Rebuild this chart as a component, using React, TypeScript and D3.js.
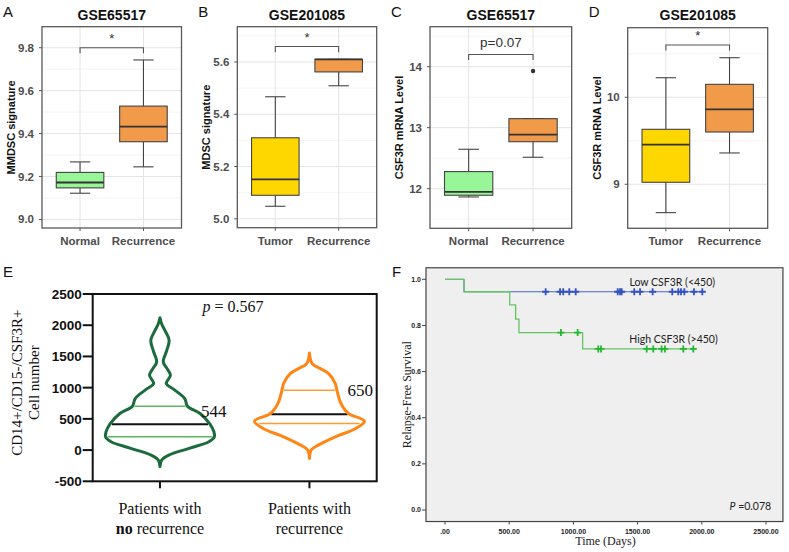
import React from "react";
import * as d3 from "d3";

// ---------- A-D: boxplots ----------
const catsNR = ["Normal", "Recurrence"];
const catsTR = ["Tumor", "Recurrence"];

// [lower whisker, q1, median, q3, upper whisker]
const statsA = [
  [9.122, 9.147, 9.172, 9.219, 9.268],
  [9.245, 9.362, 9.432, 9.528, 9.743],
];
const statsB = [
  [5.048, 5.09, 5.151, 5.31, 5.467],
  [5.509, 5.562, 5.61, 5.61, 5.61],
];
const statsC = [
  [11.864, 11.892, 11.946, 12.28, 12.646],
  [12.515, 12.77, 12.885, 13.148, 13.148],
];
const statsD = [
  [8.674, 9.023, 9.455, 9.632, 10.225],
  [9.36, 9.601, 9.862, 10.149, 10.455],
];
const outliersC = [[], [13.93]];

const ticksA = [9.0, 9.2, 9.4, 9.6, 9.8];
const minorA = [9.1, 9.3, 9.5, 9.7];
const ticksB = [5.0, 5.2, 5.4, 5.6];
const minorB = [5.1, 5.3, 5.5, 5.7];
const ticksC = [12, 13, 14];
const minorC = [11.5, 12.5, 13.5, 14.5];
const ticksD = [9, 10];
const minorD = [8.5, 9.5, 10.5];

const green = "#98f598";
const orange = "#f19b4a";
const gold = "#ffd700";

// ---------- E: violins ----------
const violinGroups = ["none", "recurrence"];
const noRecVals = [-266, -160, -80, 27, 133, 213, 293, 415, 586, 703, 825, 980, 1065, 1198, 1305, 1411, 1587, 1757, 1917, 2024, 2120];
const noRecDens = [0, 0.03, 0.16, 0.53, 0.89, 0.99, 0.98, 0.91, 0.73, 0.5, 0.45, 0.24, 0.115, 0.19, 0.13, 0.06, 0.12, 0.167, 0.09, 0.03, 0];
const recVals = [-133, 0, 80, 213, 346, 463, 575, 639, 772, 958, 1065, 1225, 1305, 1385, 1554];
const recDens = [0, 0.03, 0.16, 0.47, 0.84, 1.0, 0.73, 0.65, 0.56, 0.5, 0.47, 0.35, 0.2, 0.05, 0];
const noRecQuart = [213, 415, 703];
const recQuart = [426, 575, 958];
const violinTicks = [-500, 0, 500, 1000, 1500, 2000, 2500];
const violinLabels = ["544", "650"];

// ---------- F: Kaplan-Meier ----------
const kmTicksY = [0, 0.2, 0.4, 0.6, 0.8, 1.0];
const kmTicksX = [0, 500, 1000, 1500, 2000, 2500];
const kmTickLabelsX = [".00", "500.00", "1000.00", "1500.00", "2000.00", "2500.00"];
const lowTimes = [0, 148, 2004];
const lowSurv = [1, 0.946, 0.946];
const lowCensor = [784, 896, 921, 968, 1018, 1345, 1363, 1376, 1474, 1519, 1617, 1770, 1817, 1838, 1864, 1939, 2004];
const highTimes = [0, 148, 504, 550, 576, 1072, 1934];
const highSurv = [1, 0.946, 0.889, 0.827, 0.769, 0.698, 0.698];
const highCensor = [903, 1033, 1194, 1215, 1571, 1622, 1687, 1713, 1856, 1934];

const SANS = "'Liberation Sans', Arial, sans-serif";
const SERIF = "'Liberation Serif', 'Times New Roman', serif";

type BoxProps = {
  letter: string;
  title: string;
  ylab: string;
  cats: string[];
  stats: number[][];
  fills: string[];
  domain: [number, number];
  ticks: number[];
  minor: number[];
  fmt: (n: number) => string;
  frame: [number, number, number, number];
  bracket: number;
  sig: string;
  outliers?: number[][];
};

function BoxPanel(p: BoxProps) {
  const [l, t, r, b] = p.frame;
  const x = d3.scalePoint<string>().domain(p.cats).range([l, r]).padding(0.6);
  const y = d3.scaleLinear().domain(p.domain).range([b, t]);
  const step = x.step();
  const bw = step * 0.75;
  const cw = step * 0.32;
  const by = y(p.bracket);
  const x0 = x(p.cats[0])!;
  const x1 = x(p.cats[1])!;
  const isStar = p.sig === "*";
  return (
    <g>
      <rect x={l} y={t} width={r - l} height={b - t} fill="#fff" />
      {p.minor.filter((v) => y(v) > t && y(v) < b).map((v) => (
        <line key={"m" + v} x1={l} x2={r} y1={y(v)} y2={y(v)} stroke="#f1f1f1" strokeWidth={0.7} />
      ))}
      {p.ticks.map((v) => (
        <line key={"g" + v} x1={l} x2={r} y1={y(v)} y2={y(v)} stroke="#e4e4e4" strokeWidth={1} />
      ))}
      {p.cats.map((c) => (
        <line key={"v" + c} x1={x(c)} x2={x(c)} y1={t} y2={b} stroke="#e4e4e4" strokeWidth={1} />
      ))}
      {p.stats.map((s, i) => {
        const cx = x(p.cats[i])!;
        return (
          <g key={i} stroke="#444" strokeWidth={1.1}>
            <line x1={cx} x2={cx} y1={y(s[4])} y2={y(s[3])} />
            <line x1={cx} x2={cx} y1={y(s[1])} y2={y(s[0])} />
            <line x1={cx - cw / 2} x2={cx + cw / 2} y1={y(s[4])} y2={y(s[4])} />
            <line x1={cx - cw / 2} x2={cx + cw / 2} y1={y(s[0])} y2={y(s[0])} />
            <rect x={cx - bw / 2} y={y(s[3])} width={bw} height={y(s[1]) - y(s[3])} fill={p.fills[i]} />
            <line x1={cx - bw / 2} x2={cx + bw / 2} y1={y(s[2])} y2={y(s[2])} stroke="#333" strokeWidth={1.8} />
            {(p.outliers?.[i] ?? []).map((o) => (
              <circle key={o} cx={cx} cy={y(o)} r={2.2} fill="#333" stroke="none" />
            ))}
          </g>
        );
      })}
      <path
        d={`M${x0},${by + 5.6}V${by}H${x1}V${by + 5.6}`}
        fill="none"
        stroke="#555"
        strokeWidth={1.1}
      />
      <text
        x={(x0 + x1) / 2}
        y={isStar ? by - 5 : by - 8}
        textAnchor="middle"
        fontFamily={SANS}
        fontSize={isStar ? 13 : 13.5}
        fill="#333"
      >
        {p.sig}
      </text>
      <rect x={l} y={t} width={r - l} height={b - t} fill="none" stroke="#5a5a5a" strokeWidth={1.3} />
      {p.ticks.map((v) => (
        <g key={"t" + v}>
          <line x1={l - 3} x2={l} y1={y(v)} y2={y(v)} stroke="#555" />
          <text x={l - 8} y={y(v)} dy="0.35em" textAnchor="end" fontFamily={SANS} fontWeight="bold" fontSize={11.5} fill="#4d4d4d">
            {p.fmt(v)}
          </text>
        </g>
      ))}
      {p.cats.map((c) => (
        <g key={"x" + c}>
          <line x1={x(c)} x2={x(c)} y1={b} y2={b + 3} stroke="#555" />
          <text x={x(c)} y={b + 17} textAnchor="middle" fontFamily={SANS} fontWeight="bold" fontSize={11.5} fill="#4d4d4d">
            {c}
          </text>
        </g>
      ))}
      <text x={(l + r) / 2} y={20} textAnchor="middle" fontFamily={SANS} fontWeight="bold" fontSize={14} fill="#111">
        {p.title}
      </text>
      <text x={l - 39} y={17} fontFamily={SANS} fontSize={15} fill="#111">
        {p.letter}
      </text>
      <text
        transform={`translate(${l - 27},${(t + b) / 2}) rotate(-90)`}
        textAnchor="middle"
        fontFamily={SANS}
        fontWeight="bold"
        fontSize={11}
        fill="#111"
      >
        {p.ylab}
      </text>
    </g>
  );
}

function ViolinPanel() {
  const left = 92.7, right = 376.7, top = 294, bottom = 481.3;
  const y = d3.scaleLinear().domain([-500, 2500]).range([bottom, top]);
  const x = d3.scalePoint<string>().domain(violinGroups).range([left, right]).padding(0.45);
  const w = d3.scaleLinear().domain([0, 1]).range([0, 55]);
  const sets = [
    { vals: noRecVals, dens: noRecDens, q: noRecQuart, stroke: "#1b6b3c", ql: "#5cb85c" },
    { vals: recVals, dens: recDens, q: recQuart, stroke: "#ff8515", ql: "#ff9b35" },
  ];
  return (
    <g>
      <text x={3} y={277} fontFamily={SANS} fontSize={15} fill="#111">E</text>
      {sets.map((s, i) => {
        const cx = x(violinGroups[i])!;
        const pts = s.vals.map((v, k) => ({ v, d: s.dens[k] }));
        const area = d3
          .area<{ v: number; d: number }>()
          .y((d) => y(d.v))
          .x0((d) => cx - w(d.d))
          .x1((d) => cx + w(d.d))
          .curve(d3.curveCatmullRom);
        const densAt = d3.scaleLinear().domain(s.vals).range(s.dens);
        return (
          <g key={i}>
            {s.q.map((qv, k) => (
              <line
                key={k}
                x1={cx - w(densAt(qv)) + 2}
                x2={cx + w(densAt(qv)) - 2}
                y1={y(qv)}
                y2={y(qv)}
                stroke={k === 1 ? "#111" : s.ql}
                strokeWidth={k === 1 ? 2 : 1.6}
              />
            ))}
            <path d={area(pts)!} fill="none" stroke={s.stroke} strokeWidth={3} strokeLinejoin="round" />
          </g>
        );
      })}
      <rect x={left} y={top} width={right - left} height={bottom - top} fill="none" stroke="#111" strokeWidth={2} />
      {violinTicks.map((v) => (
        <g key={v}>
          <line x1={left - 10} x2={left} y1={y(v)} y2={y(v)} stroke="#111" strokeWidth={2} />
          <text x={left - 11} y={y(v)} dy="0.36em" textAnchor="end" fontFamily={SANS} fontWeight="bold" fontSize={13.5} fill="#111">
            {v}
          </text>
        </g>
      ))}
      {violinGroups.map((g) => (
        <line key={g} x1={x(g)} x2={x(g)} y1={bottom} y2={bottom + 7} stroke="#111" strokeWidth={2} />
      ))}
      <text x={x(violinGroups[0])} y={514} textAnchor="middle" fontFamily={SERIF} fontSize={16} fill="#111">Patients with</text>
      <text x={x(violinGroups[0])} y={534} textAnchor="middle" fontFamily={SERIF} fontSize={16} fill="#111">
        <tspan fontWeight="bold">no</tspan> recurrence
      </text>
      <text x={x(violinGroups[1])} y={514} textAnchor="middle" fontFamily={SERIF} fontSize={16} fill="#111">Patients with</text>
      <text x={x(violinGroups[1])} y={534} textAnchor="middle" fontFamily={SERIF} fontSize={16} fill="#111">recurrence</text>
      <text x={233} y={312} textAnchor="middle" fontFamily={SERIF} fontSize={16} fill="#111">
        <tspan fontStyle="italic">p</tspan> = 0.567
      </text>
      <text x={x(violinGroups[0])! + 41} y={y(544) + 1} fontFamily={SERIF} fontSize={17} fill="#111">{violinLabels[0]}</text>
      <text x={x(violinGroups[1])! + 38} y={y(650) - 14} fontFamily={SERIF} fontSize={17} fill="#111">{violinLabels[1]}</text>
      <text transform={`translate(22,${(top + bottom) / 2 - 5}) rotate(-90)`} textAnchor="middle" fontFamily={SERIF} fontSize={15} fill="#111">
        CD14+/CD15-/CSF3R+
      </text>
      <text transform={`translate(39,${(top + bottom) / 2 - 5}) rotate(-90)`} textAnchor="middle" fontFamily={SERIF} fontSize={15} fill="#111">
        Cell number
      </text>
    </g>
  );
}

function stepAt(times: number[], surv: number[], t: number) {
  return surv[Math.max(0, d3.bisectRight(times, t) - 1)];
}

function KMPanel() {
  const x = d3.scaleLinear().domain([0, 2500]).range([445, 766]);
  const y = d3.scaleLinear().domain([0, 1]).range([510, 279.3]);
  const fl = x(-148), fr = x(2632), ft = y(1.05), fb = y(-0.05);
  const line = d3
    .line<number>()
    .curve(d3.curveStepAfter);
  const curves = [
    { times: lowTimes, surv: lowSurv, cens: lowCensor, line: "#4a66c8", mark: "#3352c0", w: 1 },
    { times: highTimes, surv: highSurv, cens: highCensor, line: "#66c466", mark: "#22b830", w: 1.3 },
  ];
  return (
    <g>
      <text x={392} y={277} fontFamily={SANS} fontSize={15} fill="#111">F</text>
      <rect x={fl} y={ft} width={fr - fl} height={fb - ft} fill="#efefef" stroke="#444" strokeWidth={1.2} />
      {curves.map((c, i) => (
        <g key={i}>
          <path
            d={line.x((_, k) => x(c.times[k])).y((s) => y(s))(c.surv)!}
            fill="none"
            stroke={c.line}
            strokeWidth={c.w}
          />
          {c.cens.map((t, k) => {
            const cx = x(t), cy = y(stepAt(c.times, c.surv, t));
            return (
              <path key={k} d={`M${cx - 3.5},${cy}H${cx + 3.5}M${cx},${cy - 3.5}V${cy + 3.5}`} stroke={c.mark} strokeWidth={1.8} />
            );
          })}
        </g>
      ))}
      {kmTicksY.map((v) => (
        <g key={v}>
          <line x1={fl - 4} x2={fl} y1={y(v)} y2={y(v)} stroke="#444" />
          <text x={fl - 5} y={y(v)} dy="0.35em" textAnchor="end" fontFamily={SANS} fontWeight="bold" fontSize={7} fill="#222">
            {d3.format(".1f")(v)}
          </text>
        </g>
      ))}
      {kmTicksX.map((v, i) => (
        <g key={v}>
          <line x1={x(v)} x2={x(v)} y1={fb} y2={fb + 3} stroke="#444" />
          <text x={x(v)} y={fb + 12} textAnchor="middle" fontFamily={SANS} fontWeight="bold" fontSize={7} fill="#222">
            {kmTickLabelsX[i]}
          </text>
        </g>
      ))}
      <text x={x(1770)} y={y(0.985)} dy="0.35em" textAnchor="middle" fontFamily="Lato, sans-serif" fontSize={10.5} fill="#222">
        Low CSF3R (&lt;450)
      </text>
      <text x={x(1780)} y={y(0.739)} dy="0.35em" textAnchor="middle" fontFamily="Lato, sans-serif" fontSize={10.5} fill="#222">
        High CSF3R (&gt;450)
      </text>
      <text x={x(2540)} y={y(0.017)} dy="0.35em" textAnchor="end" fontFamily="Lato, sans-serif" fontSize={10.5} fill="#222">
        <tspan fontStyle="italic">P</tspan> =0.078
      </text>
      <text x={x(1250)} y={545} textAnchor="middle" fontFamily={SERIF} fontSize={12} fill="#222">Time (Days)</text>
      <text transform={`translate(411,${(ft + fb) / 2}) rotate(-90)`} textAnchor="middle" fontFamily={SERIF} fontSize={12} fill="#222">
        Relapse-Free Survival
      </text>
    </g>
  );
}

const f1 = d3.format(".1f");
const f0 = d3.format("d");

export default function App() {
  return (
    <svg width={789} height={552} style={{ position: "absolute", left: 0, top: 0, background: "#fff" }}>
      <rect width={789} height={552} fill="#fff" />
      <BoxPanel letter="A" title="GSE65517" ylab="MMDSC signature" cats={catsNR} stats={statsA} fills={[green, orange]}
        domain={[8.96, 9.898]} ticks={ticksA} minor={minorA} fmt={f1} frame={[42, 26.7, 181.5, 228]} bracket={9.8} sig="*" />
      <BoxPanel letter="B" title="GSE201085" ylab="MDSC signature" cats={catsTR} stats={statsB} fills={[gold, orange]}
        domain={[4.966, 5.735]} ticks={ticksB} minor={minorB} fmt={f1} frame={[237.3, 26.7, 376.7, 227.7]} bracket={5.659} sig="*" />
      <BoxPanel letter="C" title="GSE65517" ylab="CSF3R mRNA Level" cats={catsNR} stats={statsC} fills={[green, orange]}
        domain={[11.35, 14.656]} ticks={ticksC} minor={minorC} fmt={f0} frame={[430, 26.7, 571.7, 228.3]} bracket={14.2} sig="p=0.07" outliers={outliersC} />
      <BoxPanel letter="D" title="GSE201085" ylab="CSF3R mRNA Level" cats={catsTR} stats={statsD} fills={[gold, orange]}
        domain={[8.494, 10.8]} ticks={ticksD} minor={minorD} fmt={f0} frame={[627.7, 27.7, 767.7, 228.3]} bracket={10.601} sig="*" />
      <ViolinPanel />
      <KMPanel />
    </svg>
  );
}
